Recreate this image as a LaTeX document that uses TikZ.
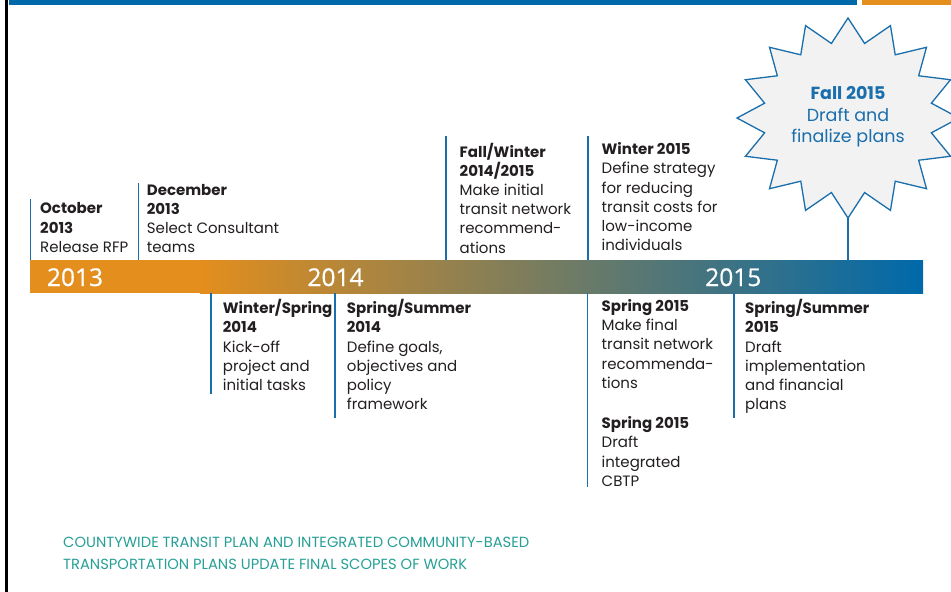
\documentclass[tikz,border=0pt]{standalone}
\usepackage{fontspec}
\usepackage{graphicx}
\newfontfamily\yearfont{Open Sans}[FakeBold=0.6]
\newfontfamily\gothicfont{Poppins}
\definecolor{topblue}{RGB}{0,105,170}
\definecolor{orangeA}{RGB}{227,142,29}
\definecolor{lineblue}{RGB}{26,110,172}
\definecolor{txt}{RGB}{35,31,32}
\definecolor{teal}{RGB}{38,160,150}
\definecolor{starfill}{RGB}{242,242,242}
\tikzset{
  tickline/.style={draw=lineblue, line width=1.7pt},
  evt/.style={anchor=north west, inner sep=0pt, align=left, text=txt,
    execute at begin node=\strut, yshift=13.44pt,
    font=\gothicfont\fontsize{15}{19.2}\selectfont},
  yearlabel/.style={anchor=base, inner sep=0pt, text=white,
    font=\yearfont\fontsize{24.5}{24.5}\selectfont},
  startext/.style={anchor=north, inner sep=0pt, align=center, text=lineblue,
    execute at begin node=\strut, yshift=15.19pt,
    font=\gothicfont\fontsize{17.5}{21.7}\selectfont},
  starstyle/.style={draw=lineblue, fill=starfill, line width=1.3pt, line join=miter},
  notetext/.style={anchor=north west, inner sep=0pt, align=left, text=teal,
    execute at begin node=\strut, yshift=15.19pt,
    font=\gothicfont\fontsize{14.7}{21.7}\selectfont},
}
\begin{document}
\begin{tikzpicture}[x=1pt,y=-1pt]
\useasboundingbox (0,0) rectangle (951,592);
\fill[white] (0,0) rectangle (951,592);
% frame and top bars
\fill[black] (5,0) rectangle (8,592);
\fill[topblue] (9,0) rectangle (856.5,5);
\fill[orangeA] (862,0) rectangle (951,5);
% timeline bar
\fill[orangeA] (29.5,260) rectangle (201,293);
\shade[left color=orangeA, right color=topblue] (200,260) rectangle (923,293);
\coordinate (bartop) at (0,260);
\coordinate (barbot) at (0,293);
\node[yearlabel] (y13) at (75,286) {2013};
\node[yearlabel] (y14) at (335.5,286) {2014};
\node[yearlabel] (y15) at (733.3,286) {2015};
% star
\filldraw[starstyle] (848,18) \foreach \i in {1,...,31}{
  -- ({848+ifthenelse(mod(\i,2)==0,111,85)*cos(-90+\i*11.25)},
      {118+ifthenelse(mod(\i,2)==0,100,76)*sin(-90+\i*11.25)}) } -- cycle;
\node[startext] (fall) at (848,101.5) {\textbf{Fall 2015}\\Draft and\\finalize plans};
\coordinate (starbot) at (848,218);
\draw[tickline] (starbot) -- (starbot |- bartop);
% events above
\coordinate (octtop) at (30.5,199);
\draw[tickline] (octtop) -- (octtop |- bartop);
\node[evt] (oct) at (40,216) {\textbf{October}\\\textbf{2013}\\Release RFP};
\coordinate (dectop) at (138.5,183);
\draw[tickline] (dectop) -- (dectop |- bartop);
\node[evt] (dec) at (146.7,197.3) {\textbf{December}\\\textbf{2013}\\Select Consultant\\teams};
\coordinate (fwtop) at (445.7,136);
\draw[tickline] (fwtop) -- (fwtop |- bartop);
\node[evt] (fw) at (459.5,156) {\textbf{Fall/Winter}\\\textbf{2014/2015}\\Make initial\\transit network\\recommend-\\ations};
\coordinate (w15top) at (587.7,136);
\draw[tickline] (w15top) -- (w15top |- bartop);
\node[evt] (w15) at (601.5,156) {\textbf{Winter 2015}\\Define strategy\\for reducing\\transit costs for\\low-income\\individuals};
% events below
\coordinate (wsbot) at (211,394);
\draw[tickline] (wsbot |- barbot) -- (wsbot);
\node[evt] (ws) at (222.7,312.7) {\textbf{Winter/Spring}\\\textbf{2014}\\Kick-off\\project and\\initial tasks};
\coordinate (ssbot) at (335,418);
\draw[tickline] (ssbot |- barbot) -- (ssbot);
\node[evt] (ss) at (346.7,312.7) {\textbf{Spring/Summer}\\\textbf{2014}\\Define goals,\\objectives and\\policy\\framework};
\coordinate (sp15bot) at (587.5,487);
\draw[tickline] (sp15bot |- barbot) -- (sp15bot);
\node[evt] (sp15a) at (601.5,312.7) {\textbf{Spring 2015}\\Make final\\transit network\\recommenda-\\tions};
\node[evt] (sp15b) at (601.5,430) {\textbf{Spring 2015}\\Draft\\integrated\\CBTP};
\coordinate (ss15bot) at (734,418);
\draw[tickline] (ss15bot |- barbot) -- (ss15bot);
\node[evt] (ss15) at (745,312.7) {\textbf{Spring/Summer}\\\textbf{2015}\\Draft\\implementation\\and financial\\plans};
% footer title
\node[notetext] (title) at (63,552.5) {COUNTYWIDE TRANSIT PLAN AND INTEGRATED COMMUNITY-BASED\\TRANSPORTATION PLANS UPDATE FINAL SCOPES OF WORK};
\end{tikzpicture}
\end{document}
